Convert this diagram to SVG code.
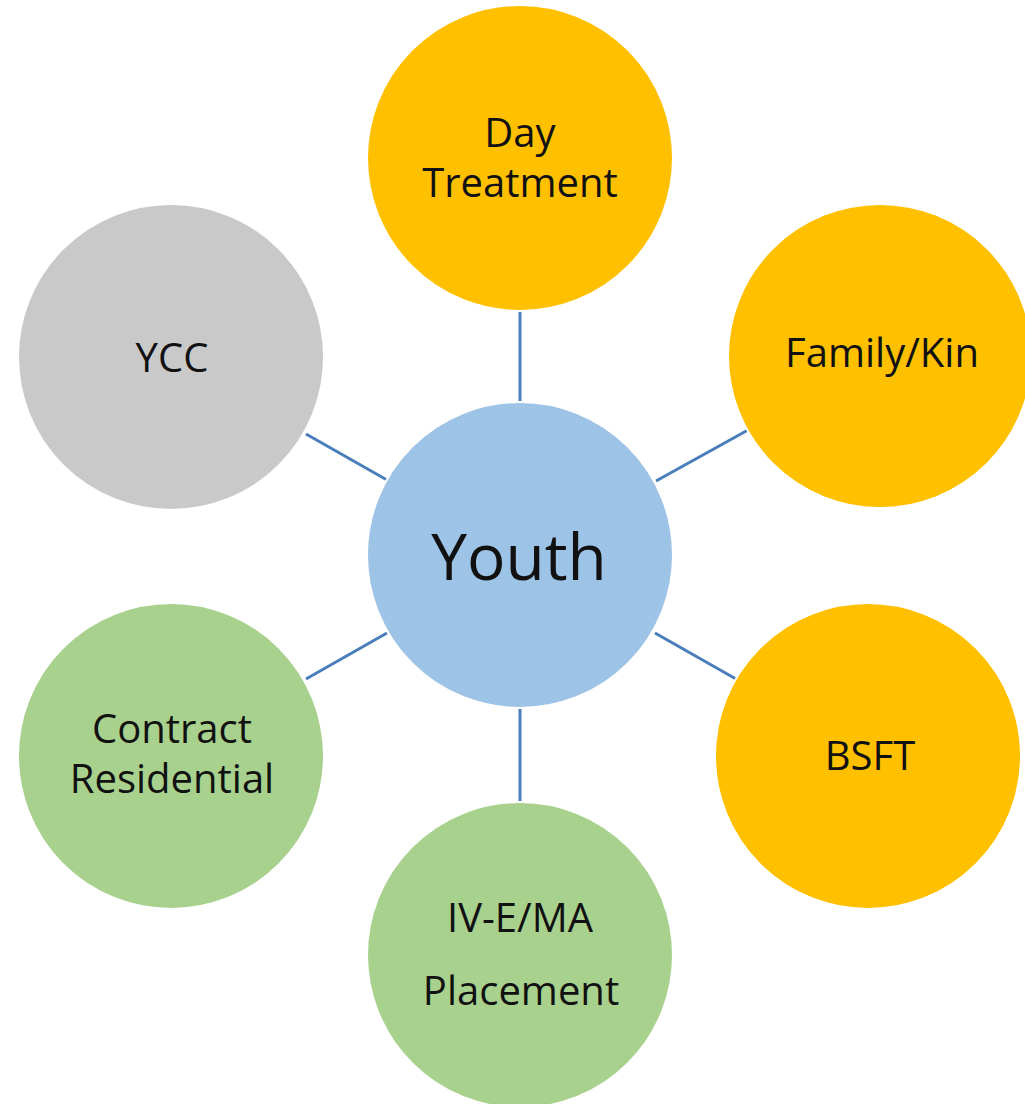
<svg xmlns="http://www.w3.org/2000/svg" width="1025" height="1104" viewBox="0 0 1025 1104">
<style>
.node{stroke:#ffffff;stroke-width:2}
.orange{fill:#FFC000}
.gray{fill:#C9C9C9}
.green{fill:#A9D18E}
.blue{fill:#9DC3E6}
.lbl{font-family:"Open Sans","Liberation Sans",sans-serif;font-size:40px;fill:#111;text-anchor:middle;font-variant-ligatures:none}
.big{font-size:64px}
.conn line{stroke:#4A7EBB;stroke-width:3}
</style>
<rect width="1025" height="1104" fill="#ffffff"/>
<g class="conn" id="connectors">
<line x1="520" y1="310" x2="520" y2="404"/>
<line x1="656" y1="481" x2="748" y2="430"/>
<line x1="655" y1="633" x2="736" y2="679"/>
<line x1="520" y1="707" x2="520" y2="803"/>
<line x1="387" y1="633" x2="306" y2="679"/>
<line x1="387" y1="480" x2="306" y2="434"/>
</g>
<g id="day-treatment">
<circle class="node orange" cx="520" cy="158" r="153"/>
<text class="lbl" x="520" y="147">Day</text>
<text class="lbl" x="520" y="197">Treatment</text>
</g>
<g id="family-kin">
<circle class="node orange" cx="880" cy="356" r="152"/>
<text class="lbl" x="882" y="367">Family/Kin</text>
</g>
<g id="bsft">
<circle class="node orange" cx="868" cy="756" r="153"/>
<text class="lbl" x="870" y="770">BSFT</text>
</g>
<g id="ive-ma">
<circle class="node green" cx="520" cy="955" r="153"/>
<text class="lbl" x="520" y="932">IV-E/MA</text>
<text class="lbl" x="521" y="1005">Placement</text>
</g>
<g id="contract-residential">
<circle class="node green" cx="171" cy="756" r="153"/>
<text class="lbl" x="172" y="743">Contract</text>
<text class="lbl" x="172" y="793">Residential</text>
</g>
<g id="ycc">
<circle class="node gray" cx="171" cy="357" r="153"/>
<text class="lbl" x="172" y="372">YCC</text>
</g>
<g id="youth">
<circle class="node blue" cx="520" cy="555" r="153"/>
<text class="lbl big" x="519" y="580">Youth</text>
</g>
</svg>
